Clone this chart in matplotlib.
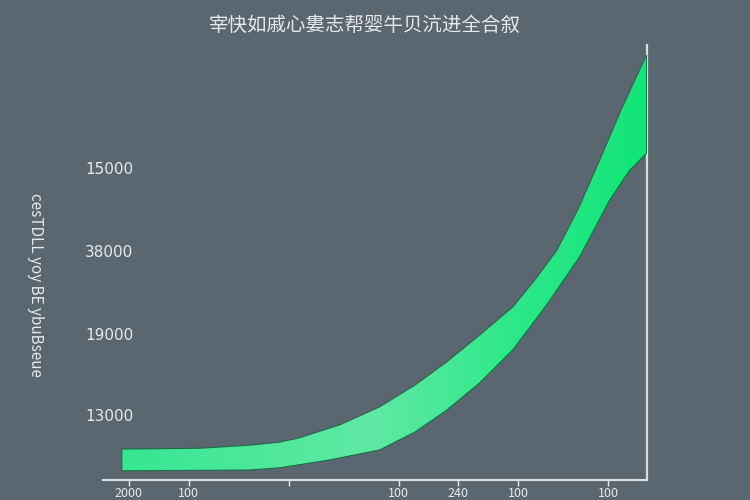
import numpy as np
import matplotlib
matplotlib.use('Agg')
import matplotlib.pyplot as plt
from matplotlib.colors import LinearSegmentedColormap
from matplotlib.patches import Polygon

plt.rcParams['font.family'] = ['Noto Sans CJK SC', 'DejaVu Sans']

# 数据
x_up = [3.5, 17.8, 27, 32.5, 36.2, 43.6, 50.9, 57.4, 63.2, 69.3, 75.4, 79.4, 83.5, 87.5, 91.4, 95.5, 100]
upper = [7.1, 7.3, 8.0, 8.7, 9.7, 12.7, 16.8, 21.8, 27.1, 33.3, 39.8, 45.9, 52.8, 62.5, 73.6, 85.6, 97.7]
x_lo = [3.5, 27, 32.5, 41.7, 50.9, 57.4, 63.2, 69.3, 75.4, 81.6, 87.7, 93.2, 96.9, 100]
lower = [2.1, 2.3, 2.8, 4.6, 6.9, 11.0, 16.0, 22.3, 29.9, 40.2, 51.3, 64.3, 71.2, 75.1]

title = '宰快如戚心婁志帮婴牛贝沆进全合叙'
ylabel = 'cesTDLL yoy BE ybuBseue'
ytick_pos = [14.5, 33.3, 52.4, 71.3]
ytick_labels = ['13000', '19000', '38000', '15000']
xtick_pos = [4.8, 15.8, 34.2, 54.4, 65.4, 76.4, 93.0]
xtick_labels = ['2000', '100', '', '100', '240', '100', '100']

bg = '#5a6670'
fg = '#e6eaec'

fig = plt.figure(figsize=(7.5, 5), dpi=100, facecolor=bg)
ax = fig.add_axes([0.137, 0.04, 0.725, 0.87], facecolor=bg)
ax.set_xlim(0, 100)
ax.set_ylim(0, 100)

# 渐变填充
cmap = LinearSegmentedColormap.from_list(
    'g', [(0.0, '#33e690'), (0.5, '#60e9a4'), (0.75, '#2ee88a'), (1.0, '#12e577')])
grad = np.linspace(0, 1, 256).reshape(1, -1)
im = ax.imshow(grad, extent=[0, 100, 0, 100], aspect='auto', cmap=cmap,
               origin='lower', zorder=2)
verts = list(zip(x_up, upper)) + list(zip(x_lo[::-1], lower[::-1]))
poly = Polygon(verts, closed=True, facecolor='none', edgecolor='#1f6b48',
               linewidth=0.8, zorder=3)
ax.add_patch(poly)
im.set_clip_path(poly)

# 坐标轴
for s in ['left', 'top']:
    ax.spines[s].set_visible(False)
for s in ['right', 'bottom']:
    ax.spines[s].set_color('#d8dde0')
    ax.spines[s].set_linewidth(1.6)

ax.set_yticks([])
ax.set_xticks(xtick_pos)
ax.set_xticklabels(xtick_labels)
ax.tick_params(axis='x', colors=fg, length=4, width=1, pad=1, labelsize=9)

for p, lab in zip(ytick_pos, ytick_labels):
    ax.text(1.2, p, lab, ha='center', va='center', color=fg, fontsize=11,
            family=['DejaVu Sans'])

fig.text(0.047, 0.43, ylabel, rotation=-90, ha='center', va='center',
         color=fg, fontsize=11)
fig.text(0.487, 0.95, title, ha='center', va='center', color=fg, fontsize=14)

fig.savefig('out.png', dpi=100, facecolor=bg)
